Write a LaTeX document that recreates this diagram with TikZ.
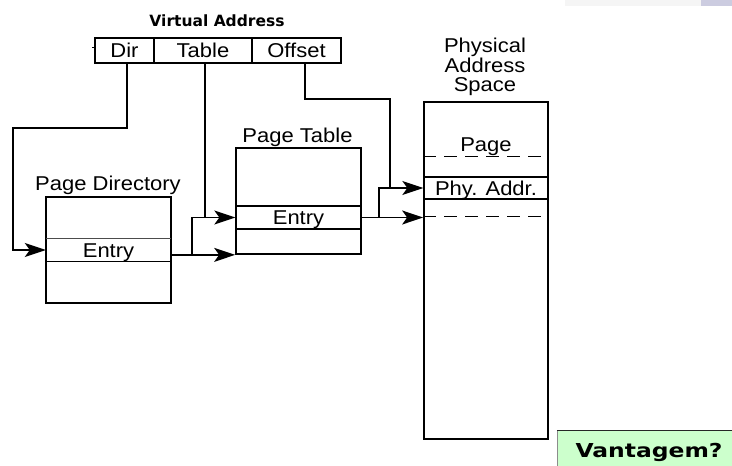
\documentclass[tikz,border=0pt]{standalone}
\usepackage{fontspec}
\setmainfont{Liberation Sans}
\newfontfamily\labelfont[FakeStretch=1.1]{Liberation Sans}
\newfontfamily\headfont{DejaVu Sans}
\newfontfamily\notefont[FakeStretch=1.22]{DejaVu Sans}
\usetikzlibrary{arrows.meta}
\definecolor{notegreen}{HTML}{CCFFCC}
\definecolor{bargray}{HTML}{F5F5F5}
\definecolor{barblue}{HTML}{CCCCE0}

\begin{document}
\begin{tikzpicture}[x=1pt,y=-1pt]

      \tikzset{field/.style={draw, line width=1.7pt, inner sep=0pt, minimum height=25pt, text height=14.3pt, text depth=0pt, font=\labelfont\fontsize{20}{20}\selectfont},
               tablebox/.style={draw, line width=1.7pt, inner sep=0pt, minimum width=125pt},
               row/.style={inner sep=0pt, minimum width=125pt, text height=14.3pt, text depth=0pt, font=\labelfont\fontsize{20}{20}\selectfont},
               title/.style={font=\labelfont\fontsize{20}{18.5}\selectfont, align=center, inner sep=0pt},
               link/.style={line width=1.4pt},
               ptr/.style={line width=1.4pt, -{Stealth[length=21pt,width=14pt,inset=5pt]}},
               dashline/.style={line width=1.2pt, dash pattern=on 13pt off 8pt}}
      \useasboundingbox (0,0) rectangle (732,466);
      \fill[bargray] (565,0) rectangle (701,6);
      \fill[barblue] (701,0) rectangle (732,6);
% Virtual address
      	\node[font=\headfont\bfseries\fontsize{15.5}{15.5}\selectfont] (va) at (217,21) {Virtual Address};
      	\node[field, minimum width=59pt] (dir) at (124.5,50.5) {Dir};
      	\node[field, minimum width=98pt] (tbl) at (203,50.5) {Table};
      	\node[field, minimum width=89pt] (off) at (296.5,50.5) {Offset};
      	\draw[line width=1pt] (92,47) -- (dir.west |- 0,47);
% Page directory
      	\node[title, anchor=base] (pdlabel) at (108,190) {Page Directory};
      	\node[tablebox, minimum height=106pt] (pd) at (108.5,250) {};
      	\node[row, minimum height=23pt] (pdent) at (108.5,250) {Entry};
      	\draw[line width=0.8pt, black!70] (pdent.north west) -- (pdent.north east);
      	\draw[line width=1.3pt] (pdent.south west) -- (pdent.south east);
% Page table
      	\node[title, anchor=base] (ptlabel) at (297.5,142) {Page Table};
      	\node[tablebox, minimum height=106pt] (pt) at (298.5,201) {};
      	\node[row, draw, line width=1.3pt, minimum height=23pt] (ptent) at (298.5,217.5) {Entry};
% Physical memory
      	\node[title, anchor=base] (palabel) at (485,91) {Physical\\Address\\Space};
      	\node[tablebox, minimum width=124pt, minimum height=337pt] (pa) at (486,270.5) {};
      	\node[row, minimum width=124pt] (pg) at (486,144) {Page};
      	\node[row, draw, line width=1.3pt, minimum width=124pt, minimum height=22pt] (phy) at (486,188) {Phy. Addr.};
      	\draw[dashline] ([yshift=-55pt]pa.north west) -- ([yshift=-55pt]pa.north east);
      	\draw[dashline] ([yshift=-115pt]pa.north west) -- ([yshift=-115pt]pa.north east);
%Links
		\draw[ptr] ([xshift=2.5pt]dir.south) |- (13,128) |- (pdent.west);
		\draw[link] ([xshift=2pt]tbl.south) -- ([xshift=2pt]tbl.south |- ptent.west);
		\draw[ptr] (pdent.east |- pt.south) -- (pt.south west);
		\draw[ptr] (192,254) |- (ptent.west);
		\draw[link] ([xshift=8.5pt]off.south) |- (390,99) -- (390,188);
		\draw[ptr] (ptent.east) -- (ptent.east -| pa.west);
		\draw[ptr] (379,217.5) |- (phy.west);
% Question
		\node[fill=notegreen, inner sep=0pt, minimum width=175pt, minimum height=36pt] (note) at (644.5,448) {};
		\draw[black!45] (note.south west) -- (note.north west);
		\draw[black!85] (note.north west) -- (note.north east);
		\node[font=\notefont\bfseries\fontsize{19.2}{19.2}\selectfont, text height=14pt, text depth=0pt, inner sep=0pt] (ask) at (649,450) {Vantagem?};

	\end{tikzpicture}
\end{document}
